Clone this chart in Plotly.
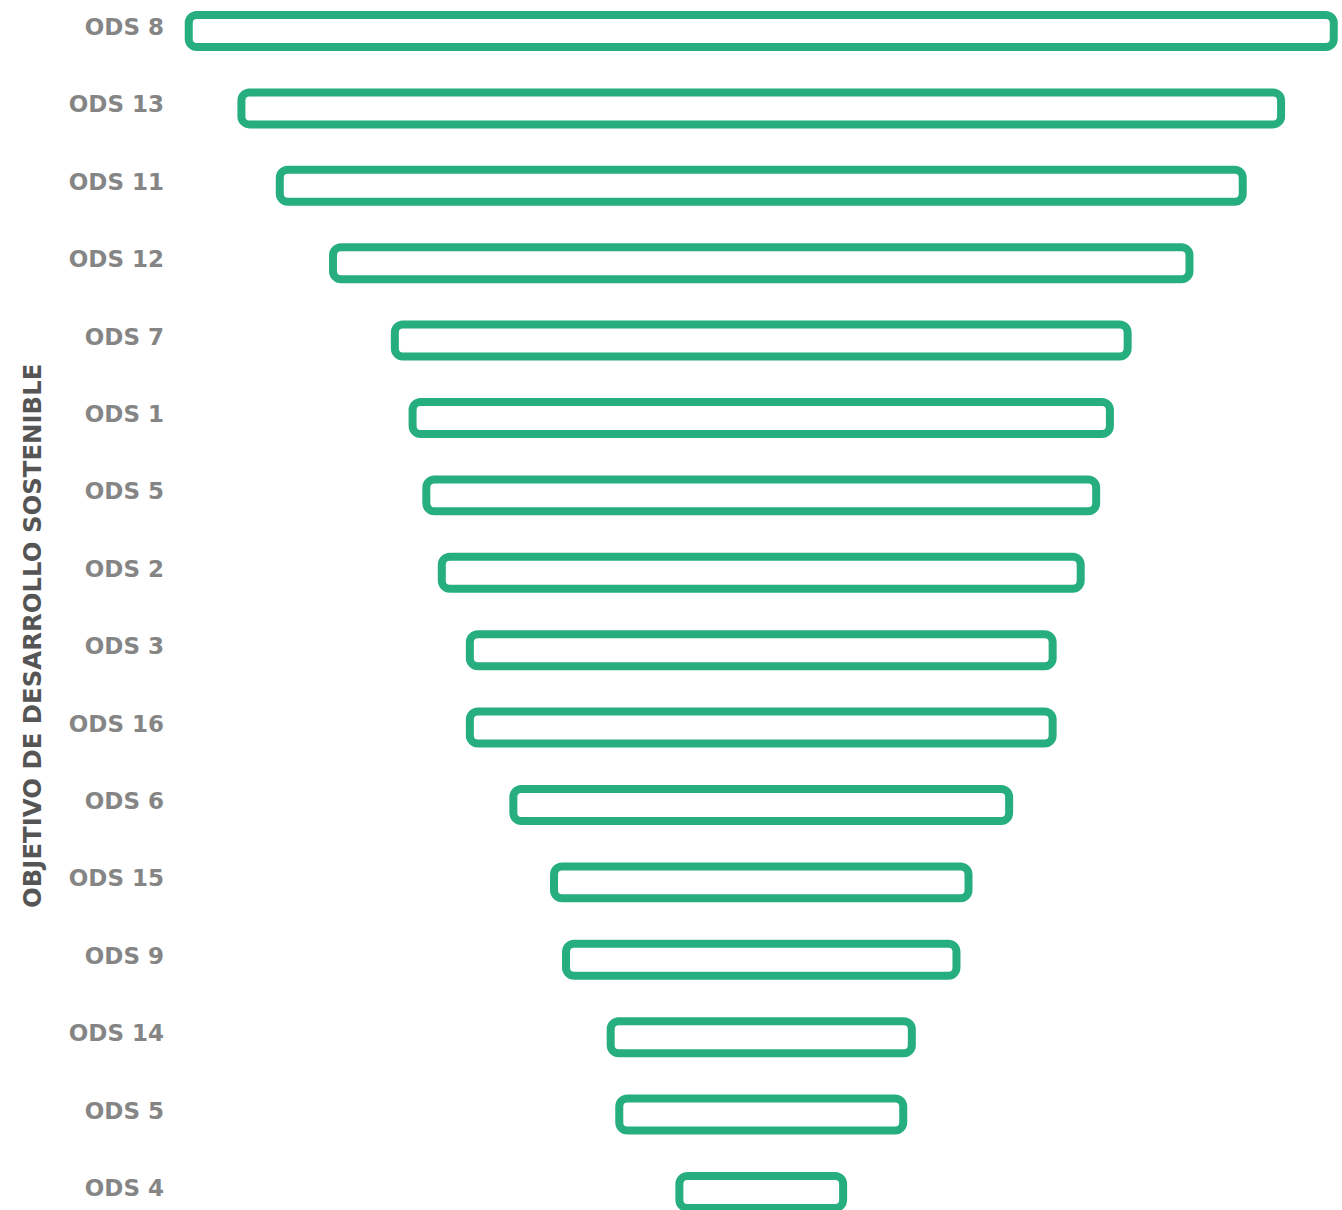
import plotly.graph_objects as go

# ODS ranking, top to bottom (relative score, max = 100)
ods_labels = ["ODS 8", "ODS 13", "ODS 11", "ODS 12", "ODS 7", "ODS 1", "ODS 5", "ODS 2",
              "ODS 3", "ODS 16", "ODS 6", "ODS 15", "ODS 9", "ODS 14", "ODS 5", "ODS 4"]
ods_values = [100, 90.8, 84.1, 74.8, 64.0, 60.9, 58.5, 55.8,
              50.9, 50.9, 43.3, 36.2, 34.1, 26.3, 24.8, 14.3]

positions = list(range(len(ods_labels)))
green = "#26AE7E"

fig = go.Figure()
fig.add_trace(go.Bar(
    y=positions,
    x=ods_values,
    base=[-v / 2 for v in ods_values],  # centred bars, funnel look
    orientation="h",
    width=0.413,
    marker=dict(color="white", line=dict(color=green, width=8)),
    hoverinfo="text",
    hovertext=[f"{l}: {v}" for l, v in zip(ods_labels, ods_values)],
))

fig.update_layout(
    width=1342,
    height=1210,
    margin=dict(l=175, r=0, t=0, b=0),
    plot_bgcolor="white",
    paper_bgcolor="white",
    barcornerradius=8,
    showlegend=False,
    font=dict(family="DejaVu Sans", size=23, color="#858585"),
)
fig.update_xaxes(visible=False, range=[-51.2, 50.72])
fig.update_yaxes(
    range=[15.233, -0.4005],
    tickvals=positions,
    ticktext=ods_labels,
    tickfont=dict(family="DejaVu Sans", size=23, color="#858585", weight="bold"),
    ticklabelstandoff=10,
    ticklabelshift=4,
    showgrid=False,
    zeroline=False,
    showline=False,
)
fig.add_annotation(
    text="OBJETIVO DE DESARROLLO SOSTENIBLE",
    xref="paper", yref="paper",
    x=(32 - 175) / 1167, y=1 - 636 / 1210,
    xanchor="center", yanchor="middle",
    textangle=-90,
    showarrow=False,
    font=dict(family="DejaVu Sans", size=24.4, color="#555555", weight="bold"),
)

# drop the default page margin so the figure sits at the top-left corner
fig.write_html("out.html", config={"displayModeBar": False},
               post_script="document.body.style.margin='0';")
